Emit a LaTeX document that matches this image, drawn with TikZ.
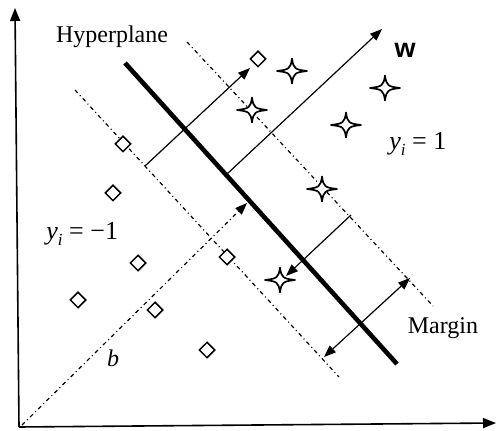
\documentclass[tikz,border=0pt]{standalone}
\usepackage{fontspec}
\setmainfont{Liberation Serif}
\newfontfamily\wfont{Liberation Sans}
\usetikzlibrary{arrows.meta,shapes.geometric}
\tikzset{
  tip/.style={-{Triangle[length=6pt,width=4.5pt]}},
  dtip/.style={{Triangle[length=6pt,width=4.5pt]}-{Triangle[length=6pt,width=4.5pt]}},
  axis/.style={line width=0.8pt,-{Triangle[length=6.5pt,width=5pt]}},
  thinline/.style={line width=0.6pt},
  dashdot/.style={line width=0.6pt,dash pattern=on 2pt off 1.6pt on 0.5pt off 1.6pt},
  hyper/.style={line width=2.3pt},
  pt/.style={diamond,draw,line width=0.75pt,fill=white,minimum width=8pt,minimum height=8pt,inner sep=0pt},
  lbl/.style={font=\fontsize{12}{14}\selectfont,inner sep=0pt},
  ylbl/.style={font=\fontsize{13}{15}\selectfont,inner sep=0pt,anchor=base west},
  pics/fourstar/.style={code={
    \draw[line width=0.85pt,fill=white,line join=round]
      (-15,0) .. controls (-3,-1.5) and (-1.5,-2) .. (0,-12.5)
      .. controls (1.5,-2) and (3,-1.5) .. (15,0)
      .. controls (3,1.5) and (1.5,2) .. (0,12.5)
      .. controls (-1.5,2) and (-3,1.5) .. (-15,0) -- cycle;
  }}
}
\begin{document}
\begin{tikzpicture}[x=0.5pt,y=-0.5pt]
\useasboundingbox (0,0) rectangle (496,431);
% axes
\coordinate (O) at (19,427);
\coordinate (ytop) at (15,8);
\coordinate (xend) at (496,423);
\draw[axis] (O) -- (ytop);
\draw[axis] (O) -- (xend);
% margin lines
\coordinate (U1) at (187,42);
\coordinate (U2) at (433,306);
\coordinate (L1) at (75,90);
\coordinate (L2) at (339,377);
\draw[dashdot] (U1) -- (U2);
\draw[dashdot] (L1) -- (L2);
% hyperplane
\coordinate (H1) at (125,63);
\coordinate (H2) at (397,364);
\draw[hyper] (H1) -- (H2);
% b
\coordinate (b0) at (22,425);
\coordinate (b1) at (247,203);
\draw[dashdot,tip] (b0) -- (b1);
% w
\coordinate (w0) at (227,174);
\coordinate (w1) at (382,29);
\draw[thinline,tip] (w0) -- (w1);
% other arrows
\coordinate (a0) at (145,166);
\coordinate (a1) at (250,68);
\draw[thinline,tip] (a0) -- (a1);
\coordinate (c0) at (351,215);
\coordinate (c1) at (286,276);
\draw[thinline,tip] (c0) -- (c1);
\coordinate (m0) at (324,357);
\coordinate (m1) at (410,278);
\draw[thinline,dtip] (m0) -- (m1);
% diamonds
\node[pt] (d1) at (258,59) {};
\node[pt] (d2) at (123,144) {};
\node[pt] (d3) at (113,193) {};
\node[pt] (d4) at (138,263) {};
\node[pt] (d5) at (78,300) {};
\node[pt] (d6) at (155,310) {};
\node[pt] (d7) at (207,350) {};
\node[pt] (d8) at (227,257) {};
% stars
\pic (s1) at (292,71) {fourstar};
\pic (s2) at (385,88) {fourstar};
\pic (s3) at (346,125) {fourstar};
\pic (s4) at (252,110) {fourstar};
\pic (s5) at (322,189) {fourstar};
\pic (s6) at (280,280) {fourstar};
% labels
\node[lbl] (thyper) at (112,37) {Hyperplane};
\node[inner sep=0pt,font=\wfont\bfseries\fontsize{13.5}{15}\selectfont] (tw) at (405,50) {w};
\node[ylbl] (tpos) at (389,150) {\textit{y}\raisebox{-0.45ex}{\fontsize{8.5}{9}\selectfont\textit{i}} = 1};
\node[ylbl] (tneg) at (46,240) {\textit{y}\raisebox{-0.45ex}{\fontsize{8.5}{9}\selectfont\textit{i}} = −1};
\node[lbl] (tb) at (113,358) {\textit{b}};
\node[lbl] (tmargin) at (443,328) {Margin};
\end{tikzpicture}
\end{document}
